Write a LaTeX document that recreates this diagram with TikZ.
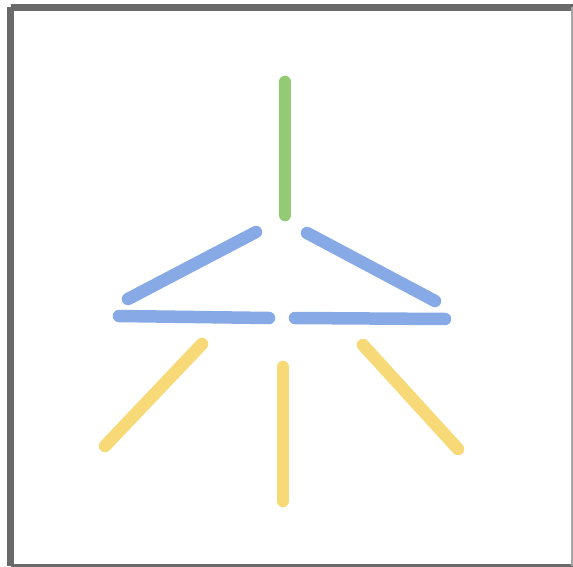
\documentclass[tikz,border=0pt]{standalone}
\definecolor{gline}{HTML}{93CB74}
\definecolor{bline}{HTML}{87AAE6}
\definecolor{yline}{HTML}{F8D977}
\definecolor{frame}{HTML}{6A6A6A}
\tikzset{
  stroke/.style={line width=12.5pt, line cap=round},
  green stroke/.style={stroke, draw=gline},
  blue stroke/.style={stroke, draw=bline},
  yellow stroke/.style={stroke, draw=yline},
}
\begin{document}
\begin{tikzpicture}[x=1pt,y=-1pt]
\useasboundingbox (0,0) rectangle (573,567);
\fill[white] (0,0) rectangle (573,567);
\draw[frame, line width=7pt] (10.5,7.5) -- (580,7.5);
\draw[frame, line width=7pt] (10.5,7.5) -- (10.5,566);
\draw[frame, line width=4pt] (10.5,566) -- (580,566);
\draw[frame!60, line width=2pt] (572,7.5) -- (572,566);
% coordinates
\coordinate (g1) at (285,82);
\coordinate (g2) at (285,215);
\coordinate (bl1) at (256,232);
\coordinate (bl2) at (128,299);
\coordinate (br1) at (307,233);
\coordinate (br2) at (435,301);
\coordinate (hl1) at (119,316);
\coordinate (hl2) at (269,318);
\coordinate (hr1) at (295,318);
\coordinate (hr2) at (445,319);
\coordinate (yl1) at (202,344);
\coordinate (yl2) at (105,446);
\coordinate (ym1) at (283,367);
\coordinate (ym2) at (283,501);
\coordinate (yr1) at (363,345);
\coordinate (yr2) at (458,449);
\draw[green stroke] (g1) -- (g2);
\draw[blue stroke] (bl1) -- (bl2);
\draw[blue stroke] (br1) -- (br2);
\draw[blue stroke] (hl1) -- (hl2);
\draw[blue stroke] (hr1) -- (hr2);
\draw[yellow stroke] (yl1) -- (yl2);
\draw[yellow stroke] (ym1) -- (ym2);
\draw[yellow stroke] (yr1) -- (yr2);
\end{tikzpicture}
\end{document}
